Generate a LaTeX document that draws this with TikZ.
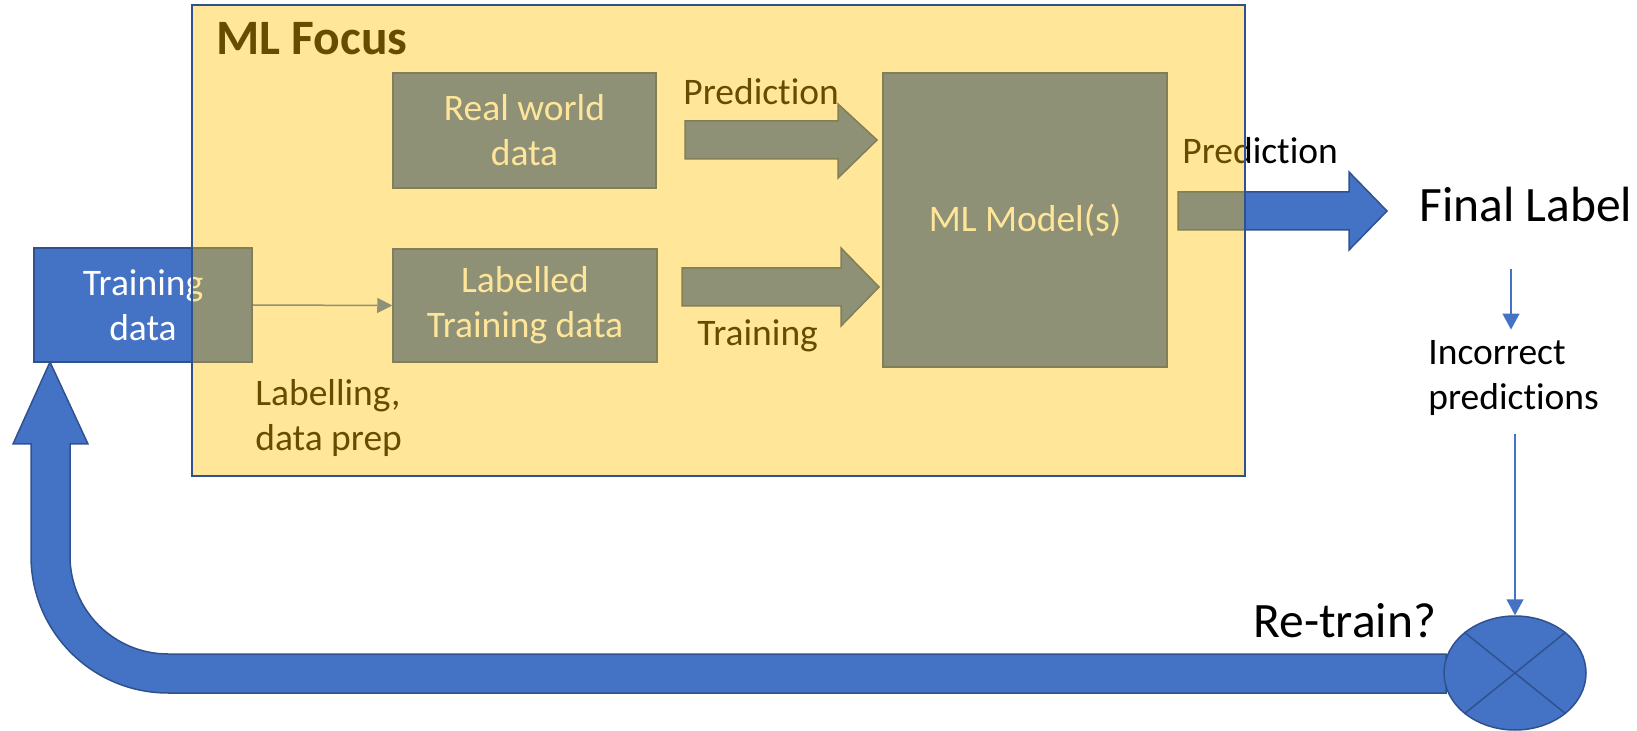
\documentclass[tikz,border=0pt]{standalone}
\usepackage{fontspec}
\setmainfont{Carlito}[Ligatures=CommonOff]
\usetikzlibrary{shapes.geometric,arrows.meta,calc}

\definecolor{mlblue}{HTML}{4472C4}
\definecolor{mledge}{HTML}{2F528F}
\definecolor{mlgold}{HTML}{FFC000}

\newcommand\lblfont{\fontsize{18.75}{22.5}\selectfont}
\newcommand\bigfont{\fontsize{24.75}{29}\selectfont}

\tikzset{
  box/.style={draw=mledge, line width=0.75pt, fill=mlblue, text=white,
    align=center, font=\lblfont, inner sep=0pt},
  bigarrow/.style={fill=mlblue, draw=mledge, line width=0.75pt, line join=miter},
  thinarrow/.style={draw=mlblue, line width=0.75pt,
    -{Triangle[width=8.5pt,length=8pt]}},
  smallarrow/.style={draw=mlblue, line width=0.75pt,
    -{Triangle[width=7.5pt,length=7.5pt]}},
  lbl/.style={inner sep=0pt, font=\lblfont, text=black},
  biglbl/.style={inner sep=0pt, font=\bigfont, text=black},
}

\begin{document}
\begin{tikzpicture}[x=0.5pt,y=-0.5pt]
\useasboundingbox (0,0) rectangle (1637,731);

% wide block arrows
\draw[bigarrow] (685,121) -- (838,121) -- (838,104) -- (877,140)
  -- (838,178) -- (838,159) -- (685,159) -- cycle;
\draw[bigarrow] (682,268) -- (841,268) -- (841,248) -- (879,287)
  -- (841,326) -- (841,306) -- (682,306) -- cycle;
\draw[bigarrow] (1178,192) -- (1349,192) -- (1349,172) -- (1387,211)
  -- (1349,250) -- (1349,230) -- (1178,230) -- cycle;

% feedback loop back to the training data
\draw[bigarrow] (1446,654) -- (168,654) arc[start angle=90, end angle=180, radius=98]
  -- (70,444) -- (88,444) -- (50,362) -- (13,444) -- (31,444) -- (31,556)
  arc[start angle=180, end angle=90, radius=137] -- (1446,693) -- cycle;

% boxes
\node[box, minimum width=109pt, minimum height=57pt] (td) at (143,305)
  {Training\\data};
\node[box, minimum width=131.5pt, minimum height=57.5pt] (rw) at (524.5,130.5)
  {Real world\\data};
\node[box, minimum width=132pt, minimum height=56.5pt] (lt) at (525,305.5)
  {Labelled\\Training data};
\node[box, minimum width=142pt, minimum height=147pt] (ml) at (1025,220)
  {ML Model(s)};

\draw[smallarrow] (td.east) -- (lt.west);

% labels
\node[lbl, anchor=base west] (predA) at (683,105) {Prediction};
\node[lbl, anchor=base west] (trainA) at (697,346) {Training};
\node[lbl, anchor=base west] (predB) at (1182,164) {Prediction};
\node[lbl, anchor=west, align=left] (prep) at (255,418.5) {Labelling,\\data prep};
\node[inner sep=0pt, font=\bigfont\bfseries, anchor=base west] (focus) at (216,55) {ML Focus};

% translucent focus area
\node[draw=mledge, line width=1pt, fill=mlgold, fill opacity=0.4,
  minimum width=526.5pt, minimum height=235.5pt, inner sep=0pt] (area) at (718.5,240.5) {};

% outcome and retraining decision
\node[biglbl, anchor=base west] (fl) at (1419,222) {Final Label};
\node[lbl, anchor=west, align=left] (ip) at (1428,377.5) {Incorrect\\predictions};
\node[biglbl, anchor=base west] (re) at (1253,637) {Re-train?};
\node[ellipse, draw=mledge, line width=0.75pt, fill=mlblue,
  minimum width=71pt, minimum height=57pt, inner sep=0pt] (rt) at (1515,673) {};
\draw[mledge, line width=0.75pt] (rt.north west) -- (rt.south east)
  (rt.north east) -- (rt.south west);

\coordinate (c1) at (1511,269);
\coordinate (c3) at (1515,434);
\draw[thinarrow] (c1) -- ([yshift=5pt]c1 |- ip.north);
\draw[thinarrow] (c3) -- (rt.north);
\end{tikzpicture}
\end{document}
